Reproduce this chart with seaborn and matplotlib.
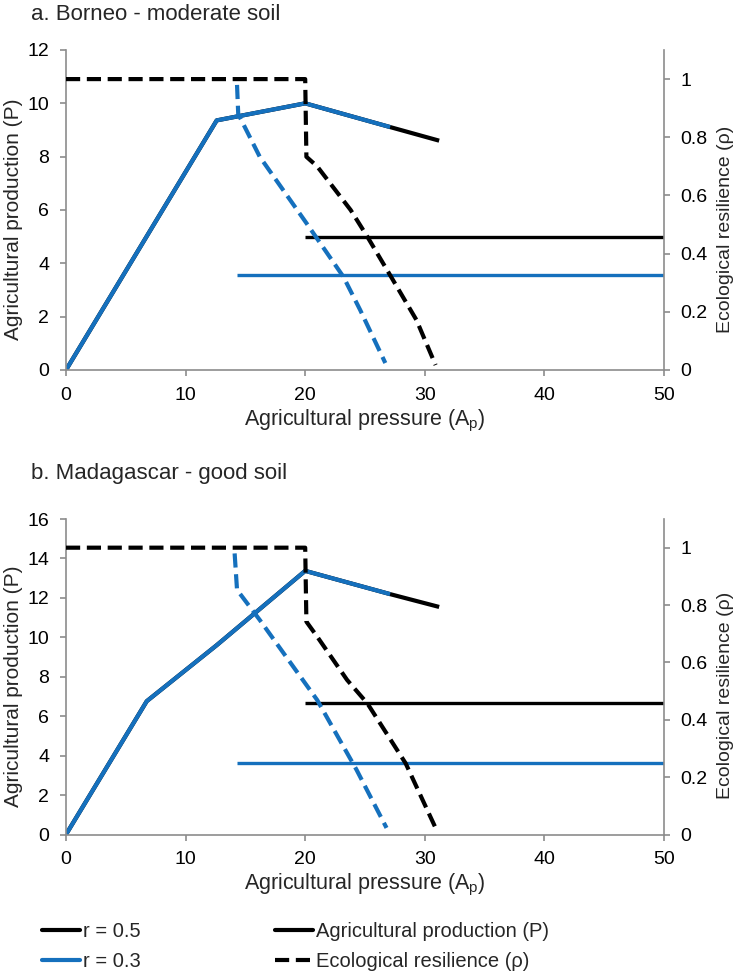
import matplotlib
matplotlib.use("Agg")
import matplotlib.pyplot as plt
from matplotlib.lines import Line2D
import seaborn as sns
import numpy as np

sns.set_style("ticks")
plt.rcParams['font.family'] = ['Liberation Sans', 'DejaVu Sans']
plt.rcParams['mathtext.fontset'] = 'custom'
plt.rcParams['mathtext.rm'] = 'Liberation Sans'
plt.rcParams['mathtext.it'] = 'Liberation Sans'

BLUE = '#1570BD'
GRAY = '#8C8C8C'

# ---------------- Panel a: Borneo - moderate soil ----------------
a_P05_x = [0, 12.6, 20, 27.1, 31.2]
a_P05_y = [0, 9.36, 10.0, 9.11, 8.6]
a_P03_x = [0, 12.6, 20, 27.1]
a_P03_y = [0, 9.36, 10.0, 9.11]
a_H05_x = [20, 50]
a_H05_y = [5.0, 5.0]
a_H03_x = [14.3, 50]
a_H03_y = [3.56, 3.56]
a_R05_x = [0, 20, 20.1, 21, 23.8, 25.2, 27.1, 29.3, 30.9]
a_R05_y = [1.0, 1.0, 0.733, 0.70, 0.55, 0.458, 0.326, 0.172, 0.017]
a_R03_x = [14.3, 14.4, 16.2, 20.1, 23.2, 24.6, 26.7]
a_R03_y = [0.98, 0.88, 0.733, 0.505, 0.32, 0.206, 0.024]

# ---------------- Panel b: Madagascar - good soil ----------------
b_P05_x = [0, 6.75, 12.6, 20, 27.1, 31.2]
b_P05_y = [0, 6.76, 9.6, 13.37, 12.19, 11.54]
b_P03_x = [0, 6.75, 12.6, 20, 27.1]
b_P03_y = [0, 6.76, 9.6, 13.37, 12.19]
b_H05_x = [20, 50]
b_H05_y = [6.68, 6.68]
b_H03_x = [14.3, 50]
b_H03_y = [3.62, 3.62]
b_R05_x = [0, 20, 20.1, 21, 23.5, 25.2, 28.4, 30.9]
b_R05_y = [1.0, 1.0, 0.742, 0.69, 0.539, 0.457, 0.248, 0.023]
b_R03_x = [14.1, 14.3, 16.2, 21, 24.3, 26.8]
b_R03_y = [0.98, 0.853, 0.748, 0.469, 0.225, 0.023]

x_ticks = [0, 10, 20, 30, 40, 50]
a_yticks = [0, 2, 4, 6, 8, 10, 12]
b_yticks = [0, 2, 4, 6, 8, 10, 12, 14, 16]
r_ticks = [0, 0.2, 0.4, 0.6, 0.8, 1]
r_labels = ['0', '0.2', '0.4', '0.6', '0.8', '1']

titles = ['a. Borneo - moderate soil', 'b. Madagascar - good soil']
leg_r = ['r = 0.5', 'r = 0.3']
leg_v = ['Agricultural production (P)', 'Ecological resilience (ρ)']

W, H = 737, 976
fig = plt.figure(figsize=(W / 100, H / 100), dpi=100)

def rect(l, r, t, b):
    return [l / W, 1 - b / H, (r - l) / W, (b - t) / H]

DASH = (3.4, 1.6)
TICK_FS = 14
XL_FS = 15.5
YL_FS = 15
YR_FS = 14

def panel(box, P05, P03, H05, H03, R05, R03, yticks, ylim, title, ty):
    ax = fig.add_axes(box)
    ax2 = ax.twinx()
    sns.lineplot(x=P05[0], y=P05[1], ax=ax, color='black', lw=3, estimator=None, sort=False)
    sns.lineplot(x=P03[0], y=P03[1], ax=ax, color=BLUE, lw=3, estimator=None, sort=False)
    sns.lineplot(x=H05[0], y=H05[1], ax=ax, color='black', lw=2.4, estimator=None, sort=False)
    sns.lineplot(x=H03[0], y=H03[1], ax=ax, color=BLUE, lw=2.4, estimator=None, sort=False)
    for ln in ax.lines:
        ln.set_solid_capstyle('butt')
    sns.lineplot(x=R05[0], y=R05[1], ax=ax2, color='black', lw=3, estimator=None, sort=False)
    ax2.lines[-1].set_dashes(DASH)
    sns.lineplot(x=R03[0], y=R03[1], ax=ax2, color=BLUE, lw=3, estimator=None, sort=False)
    ax2.lines[-1].set_dashes(DASH)
    for ln in ax2.lines:
        ln.set_dash_capstyle('butt')

    ax.set_xlim(0, 50)
    ax.set_ylim(*ylim)
    ax2.set_ylim(0, 1.1)
    ax.set_xticks(x_ticks)
    ax.set_yticks(yticks)
    ax2.set_yticks(r_ticks)
    ax2.set_yticklabels(r_labels)
    for a in (ax, ax2):
        for s in a.spines.values():
            s.set_color(GRAY)
            s.set_linewidth(1.2)
        a.spines['top'].set_visible(False)
        a.tick_params(colors=GRAY, labelcolor='black', labelsize=TICK_FS, length=4, width=1.2, pad=8)
    ax2.spines['left'].set_visible(False)
    ax2.spines['bottom'].set_visible(False)
    ax.spines['right'].set_visible(False)
    ax.set_xlabel('Agricultural pressure (A$_\\mathregular{p}$)', fontsize=XL_FS, labelpad=3)
    ax.set_ylabel('Agricultural production (P)', fontsize=YL_FS)
    ax2.set_ylabel('Ecological resilience (ρ)', fontsize=YR_FS)
    ax.yaxis.set_label_coords(-0.072, 0.47)
    ax2.yaxis.set_label_coords(1.089, 0.44)
    fig.text(31 / W, 1 - ty / H, title, fontsize=16, va='center', ha='left')
    return ax

panel(rect(66, 664, 50, 370), (a_P05_x, a_P05_y), (a_P03_x, a_P03_y),
      (a_H05_x, a_H05_y), (a_H03_x, a_H03_y), (a_R05_x, a_R05_y), (a_R03_x, a_R03_y),
      a_yticks, (0, 12), titles[0], 14)
panel(rect(66, 664, 519, 834.5), (b_P05_x, b_P05_y), (b_P03_x, b_P03_y),
      (b_H05_x, b_H05_y), (b_H03_x, b_H03_y), (b_R05_x, b_R05_y), (b_R03_x, b_R03_y),
      b_yticks, (0, 16), titles[1], 474)

h1 = [Line2D([], [], color='black', lw=3), Line2D([], [], color=BLUE, lw=3)]
h2 = [Line2D([], [], color='black', lw=3), Line2D([], [], color='black', lw=3, dashes=DASH)]
common = dict(frameon=False, fontsize=14.5, handlelength=1.9, handletextpad=0.15,
              borderpad=0, borderaxespad=0, labelspacing=0.55, loc='upper left')
fig.legend(h1, leg_r, bbox_to_anchor=(42 / W, 1 - 922 / H), **common)
fig.legend(h2, leg_v, bbox_to_anchor=(275 / W, 1 - 922 / H), **common)

fig.savefig('out.png', dpi=100)
